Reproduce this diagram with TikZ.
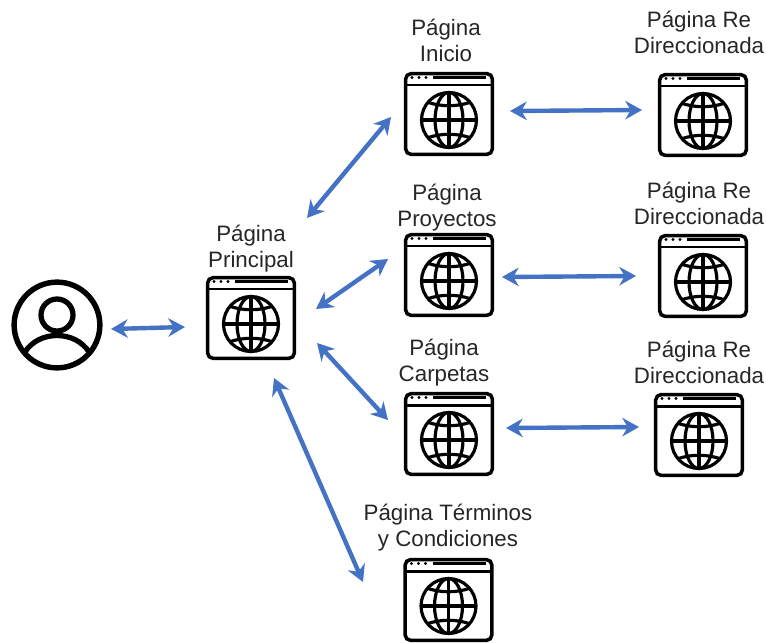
\documentclass[tikz,border=0pt]{standalone}
\usepackage{fontspec}
\setmainfont{Liberation Sans}
\usepackage{tikz}
\usetikzlibrary{arrows.meta}
\definecolor{linkblue}{HTML}{4472C4}
\definecolor{titlegray}{HTML}{262626}

\begin{document}
\begin{tikzpicture}[x=0.02cm, y=-0.02cm]
    \tikzset{page/.style = {shape=rectangle, draw, line width=2pt, rounded corners=3pt, minimum width=49.3pt, minimum height=45.9pt, inner sep=0pt,
        path picture={
            \begin{scope}[shift={(path picture bounding box.center)}]
                \fill (-37,-36.5) circle (1.7);
                \fill (-30,-36.5) circle (1.7);
                \fill (-23,-36.5) circle (1.7);
                \draw[line width=1.9pt, rounded corners=0pt] (-16,-36.5) -- (37,-36.5);
                \draw[line width=1.7pt, rounded corners=0pt] (-45,-29) -- (45,-29);
                \draw[line width=1.8pt] (0,6) circle (27.5);
                \draw[line width=1.8pt] (0,6) ellipse (14 and 27.5);
                \draw[line width=1.8pt, rounded corners=0pt] (0,-21) -- (0,33);
                \draw[line width=1.8pt, rounded corners=0pt] (-27,6) -- (27,6);
                \draw[line width=1.8pt, rounded corners=0pt] (-22,-12) .. controls (-8,-7) and (8,-7) .. (22,-12);
                \draw[line width=1.8pt, rounded corners=0pt] (-22,24) .. controls (-8,19) and (8,19) .. (22,24);
            \end{scope}
        }}}
    \tikzset{person/.style = {shape=circle, draw, line width=3.1pt, minimum size=48.8pt, inner sep=0pt,
        path picture={
            \begin{scope}[shift={(path picture bounding box.center)}]
                \draw[line width=3pt] (0,-10) circle (16);
                \draw[line width=3pt] (-32,27) .. controls (-18,5) and (18,5) .. (32,27);
            \end{scope}
        }}}
    \tikzset{title/.style = {align=center, inner sep=0pt, text=titlegray, font=\fontsize{12.7}{14.7}\selectfont}}
    \tikzset{link/.style = {draw=linkblue, line width=2.5pt, {Stealth[length=9.5pt,width=10.5pt]}-{Stealth[length=9.5pt,width=10.5pt]}}}

    \useasboundingbox (0,0) rectangle (766,642);

    % pages
    \node[person] (user) at (57,325) {};
    \node[page] (prin) at (251,318) {};
    \node[page] (ini) at (449,114) {};
    \node[page] (proy) at (449,275) {};
    \node[page] (carp) at (449,434) {};
    \node[page] (term) at (448.5,600) {};
    \node[page] (redA) at (703,115) {};
    \node[page] (redB) at (703,276) {};
    \node[page] (redC) at (699,435) {};

    % titles
    \node[title] (tPrin) at (251,249) {Página\\Principal};
    \node[title] (tIni) at (446,40) {Página\\Inicio};
    \node[title] (tProy) at (447,208) {Página\\Proyectos};
    \node[title] (tCarp) at (444,363) {Página\\Carpetas};
    \node[title] (tTerm) at (448,528) {Página Términos\\y Condiciones};
    \node[title] (tRedA) at (699,32) {Página Re\\Direccionada};
    \node[title] (tRedB) at (699,203) {Página Re\\Direccionada};
    \node[title] (tRedC) at (699,362) {Página Re\\Direccionada};

    % links
    \draw[link] ([shift={(54,4)}]user.center) -- ([shift={(-66,9)}]prin.center);
    \draw[link] ([shift={(56,-100)}]prin.center) -- ([shift={(-58,3)}]ini.center);
    \draw[link] ([shift={(65,-9)}]prin.center) -- ([shift={(-61,-16)}]proy.center);
    \draw[link] ([shift={(66,25)}]prin.center) -- ([shift={(-61,-14)}]carp.center);
    \draw[link] ([shift={(23,60)}]prin.center) -- ([shift={(-85.5,-18)}]term.center);
    \draw[link] ([shift={(61,-3)}]ini.center) -- ([shift={(-61,-5)}]redA.center);
    \draw[link] ([shift={(53,2)}]proy.center) -- ([shift={(-67,0)}]redB.center);
    \draw[link] ([shift={(57,-6)}]carp.center) -- ([shift={(-60,-8)}]redC.center);
\end{tikzpicture}
\end{document}
